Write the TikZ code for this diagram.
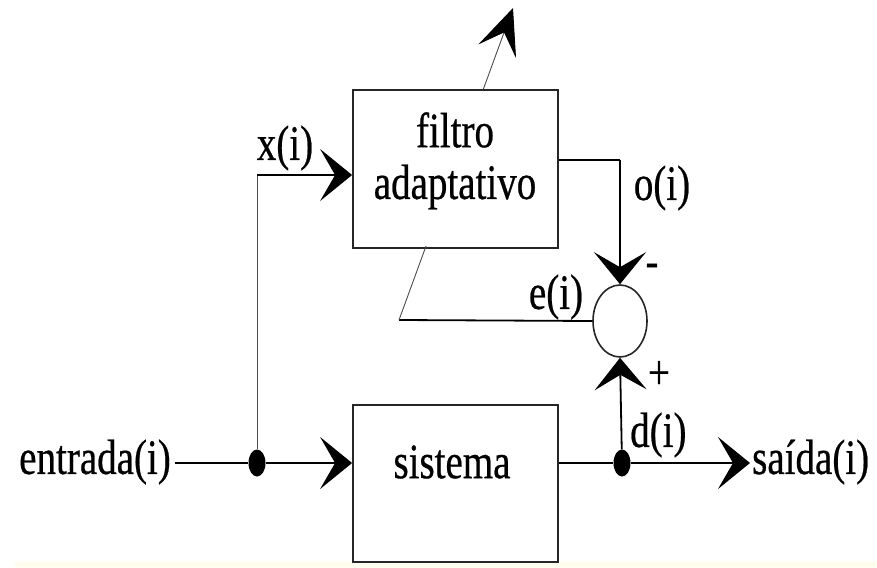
\documentclass[tikz,border=0pt]{standalone}
\usepackage{fontspec}
\setmainfont{Liberation Serif}[FakeBold=0.6]
\newfontfamily\dashfont{Liberation Sans}[FakeBold=1.5]
\usetikzlibrary{arrows.meta,shapes.geometric,calc}
\begin{document}
\begin{tikzpicture}[x=1pt,y=-1pt,
  lbl/.style={font=\fontsize{39}{40}\selectfont, inner sep=0pt, yscale=1.27, xscale=1.0},
  blk/.style={draw=black!85, line width=1.8pt, fill=none, inner sep=0pt},
  wire/.style={line width=1.8pt},
  thinwire/.style={line width=0.9pt, draw=black!70},
  arr/.style={-{Stealth[length=32pt, width=52pt, inset=15pt, black]}},
  bigarr/.style={-{Stealth[length=46pt, width=40pt, inset=20pt, black]}},
  dotn/.style={ellipse, fill=black, minimum width=17pt, minimum height=27pt, inner sep=0pt},
]
\useasboundingbox (0,0) rectangle (877,567);
\fill[white] (0,0) rectangle (877,567);
\fill[yellow!8] (14,562) rectangle (877,567);

% blocks
\node[blk, minimum width=205pt, minimum height=158pt] (filt) at (455.5,169) {};
\node[blk, minimum width=205pt, minimum height=157pt] (sis) at (455.5,483.5) {};
\node[draw=black!85, line width=1.6pt, ellipse, minimum width=54pt, minimum height=72pt, inner sep=0pt] (sum) at (620,321) {};

% dots
\node[dotn] (d1) at (257,463) {};
\node[dotn] (d2) at (622,463) {};

% coordinates
\coordinate (inL) at (175,463);
\coordinate (outR) at (750,463);
\coordinate (xcor) at (257,175);
\coordinate (ocor) at (620,160);
\coordinate (ecor) at (399,320);
\coordinate (tip) at (513,8);

% labels
\node[lbl] (tfil) at (455,130) {filtro};
\node[lbl] (tada) at (455,187) {adaptativo};
\node[lbl] (tsis) at (452,462) {sistema};
\node[lbl, anchor=east] (tin) at (171,462) {entrada(i)};
\node[lbl, anchor=west] (tout) at (752,462) {saída(i)};
\node[lbl] (tx) at (285,148) {x(i)};
\node[lbl] (to) at (662,188) {o(i)};
\node[lbl] (te) at (556,297) {e(i)};
\node[lbl, anchor=west] (td) at (630,435) {d(i)};
\node[font=\fontsize{40}{40}\dashfont, inner sep=0pt] (tminus) at (652,270) {-};
\node[lbl] (tplus) at (659,375) {+};

% wires
\draw[wire] (inL) -- (d1);
\draw[wire, arr] (d1) -- (sis.west |- d1);
\draw[wire] (sis.east |- d2) -- (d2);
\draw[wire, arr] (d2) -- (outR);
\draw[thinwire] (d1) -- (xcor);
\draw[wire, arr] (xcor) -- (filt.west |- xcor);
\draw[wire] (filt.east |- ocor) -- (ocor);
\draw[wire, arr] (ocor) -- (sum.north);
\draw[wire, arr] (d2) -- (sum.south);
\draw[wire] (sum.west) -- (ecor);
\draw[thinwire] (ecor) -- ($(ecor)!0.237!(tip)$);
\draw[thinwire, bigarr] ($(ecor)!0.74!(tip)$) -- (tip);
\end{tikzpicture}
\end{document}
